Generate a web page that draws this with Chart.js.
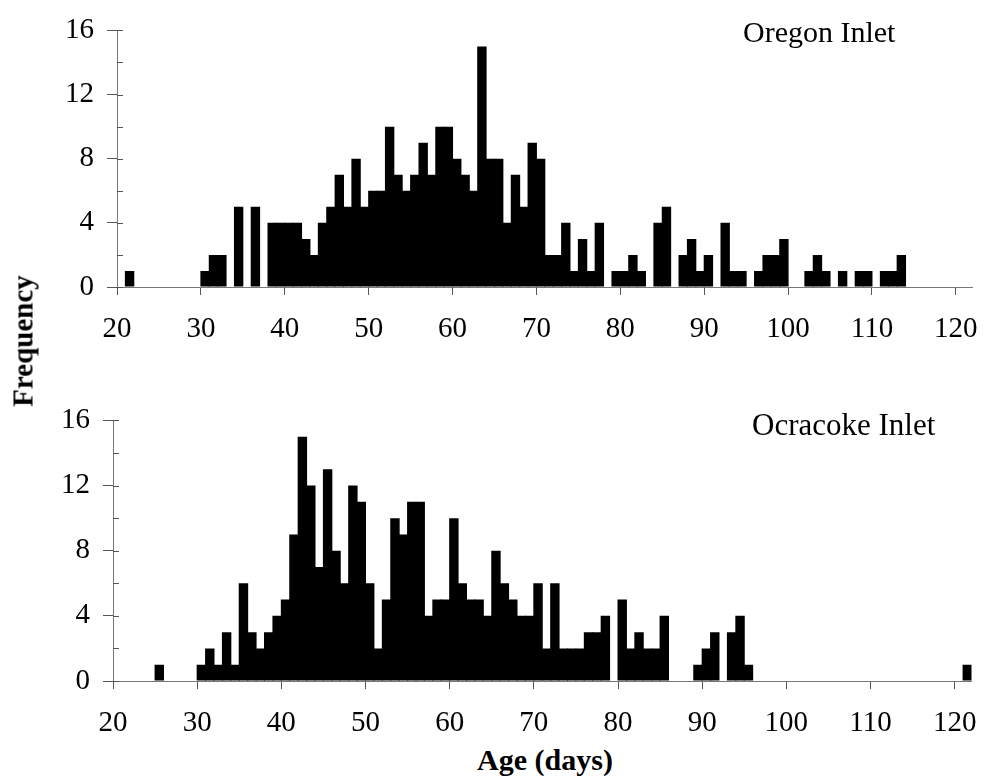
<!doctype html>
<html lang="en">
  <head>
    <meta charset="UTF-8" />
    <title>Age frequency - Oregon and Ocracoke Inlets</title>
    <script src="https://cdn.jsdelivr.net/npm/chart.js"></script>
    <style>
      body {
        margin: 0;
        background: #fff;
        width: 995px;
        height: 780px;
        position: relative;
        overflow: hidden;
        font-family: "Liberation Serif", "Times New Roman", serif;
      }
      canvas { position: absolute; left: 0; }
      .lbl { position: absolute; white-space: nowrap; line-height: 1; color: #000; }
    </style>
  </head>
  <body>
    <canvas id="oregonChart" width="995" height="345" style="top: 0"></canvas>
    <canvas id="ocracokeChart" width="995" height="345" style="top: 390px"></canvas>

    <div class="lbl" style="left: 743px; top: 17px; font-size: 30px">Oregon Inlet</div>
    <div class="lbl" style="left: 752px; top: 409px; font-size: 31px">Ocracoke Inlet</div>
    <div class="lbl" style="left: 23px; top: 341px; font-size: 29px; font-weight: bold; transform: translate(-50%, -50%) rotate(-90deg)">Frequency</div>
    <div class="lbl" style="left: 545px; top: 760px; font-size: 30px; font-weight: bold; transform: translate(-50%, -50%)">Age (days)</div>

    <script>
      // one bar per day of age, first entry is day 20
      const firstAge = 20;

      const oregonFreq = [
        0, 1, 0, 0, 0, 0, 0, 0, 0, 0,
        1, 2, 2, 0, 5, 0, 5, 0, 4, 4,
        4, 4, 3, 2, 4, 5, 7, 5, 8, 5,
        6, 6, 10, 7, 6, 7, 9, 7, 10, 10,
        8, 7, 6, 15, 8, 8, 4, 7, 5, 9,
        8, 2, 2, 4, 1, 3, 1, 4, 0, 1,
        1, 2, 1, 0, 4, 5, 0, 2, 3, 1,
        2, 0, 4, 1, 1, 0, 1, 2, 2, 3,
        0, 0, 1, 2, 1, 0, 1, 0, 1, 1,
        0, 1, 1, 2, 0, 0, 0, 0, 0, 0,
        0, 0,
      ];

      const ocracokeFreq = [
        0, 0, 0, 0, 0, 1, 0, 0, 0, 0,
        1, 2, 1, 3, 1, 6, 3, 2, 3, 4,
        5, 9, 15, 12, 7, 13, 8, 6, 12, 11,
        6, 2, 5, 10, 9, 11, 11, 4, 5, 5,
        10, 6, 5, 5, 4, 8, 6, 5, 4, 4,
        6, 2, 6, 2, 2, 2, 3, 3, 4, 0,
        5, 2, 3, 2, 2, 4, 0, 0, 0, 1,
        2, 3, 0, 3, 4, 1, 0, 0, 0, 0,
        0, 0, 0, 0, 0, 0, 0, 0, 0, 0,
        0, 0, 0, 0, 0, 0, 0, 0, 0, 0,
        0, 1,
      ];

      const ageTicks = [20, 30, 40, 50, 60, 70, 80, 90, 100, 110, 120];
      const freqTicks = [0, 4, 8, 12, 16];
      const minorFreqTicks = [0, 2, 4, 6, 8, 10, 12, 14, 16];

      const tickFont = { family: '"Liberation Serif", serif', size: 29, lineHeight: 1.2 };

      // small tick marks on the inside of the y axis
      const innerTicks = {
        id: "innerTicks",
        afterDraw(chart) {
          const y = chart.scales.y;
          const ctx = chart.ctx;
          const x0 = chart.chartArea.left;
          ctx.save();
          ctx.strokeStyle = "#555";
          ctx.lineWidth = 1;
          minorFreqTicks.forEach((v) => {
            const py = Math.round(y.getPixelForValue(v)) + 0.5;
            ctx.beginPath();
            ctx.moveTo(x0, py);
            ctx.lineTo(x0 + 6, py);
            ctx.stroke();
          });
          ctx.restore();
        },
      };

      function makeChart(id, freq, box) {
        const points = freq.map((v, i) => ({ x: firstAge + i + 0.5, y: v }));
        return new Chart(document.getElementById(id), {
          type: "bar",
          data: {
            datasets: [
              {
                data: points,
                backgroundColor: "#000",
                borderWidth: 0,
                barPercentage: 1.12,
                categoryPercentage: 1,
              },
            ],
          },
          options: {
            responsive: false,
            animation: false,
            layout: { padding: { top: box.top, right: box.right, left: 0, bottom: 0 } },
            plugins: { legend: { display: false }, tooltip: { enabled: false } },
            scales: {
              x: {
                type: "linear",
                min: 20,
                max: 122,
                offset: false,
                afterBuildTicks: (axis) => {
                  axis.ticks = ageTicks.map((v) => ({ value: v }));
                },
                afterFit: (axis) => {
                  axis.height = box.xAxisHeight;
                },
                grid: { offset: false, drawOnChartArea: false, tickLength: 8, tickColor: "#555" },
                border: { color: "#777", width: 1 },
                ticks: { font: tickFont, color: "#000", padding: 17, maxRotation: 0, autoSkip: false },
              },
              y: {
                min: 0,
                max: 16,
                afterBuildTicks: (axis) => {
                  axis.ticks = freqTicks.map((v) => ({ value: v }));
                },
                afterFit: (axis) => {
                  axis.width = box.left;
                },
                grid: { drawOnChartArea: false, tickLength: 10, tickColor: "#555" },
                border: { color: "#777", width: 1 },
                ticks: { font: tickFont, color: "#000", padding: 13 },
              },
            },
          },
          plugins: [innerTicks],
        });
      }

      makeChart("oregonChart", oregonFreq, { left: 117, top: 22, right: 19.5, xAxisHeight: 58 });
      makeChart("ocracokeChart", ocracokeFreq, { left: 113, top: 17, right: 23.5, xAxisHeight: 54 });
    </script>
  </body>
</html>
